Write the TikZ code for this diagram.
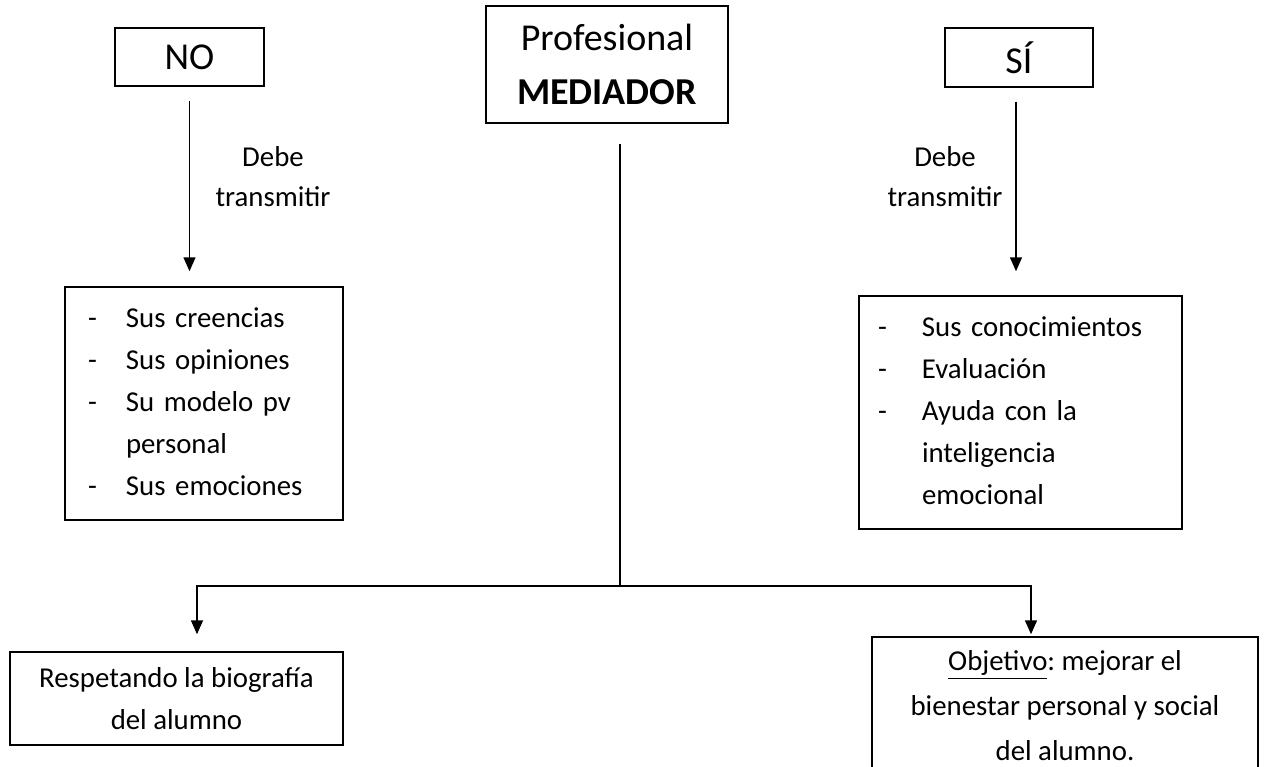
\documentclass[tikz,border=0pt]{standalone}
\usepackage{fontspec}
\setmainfont{Carlito}
\usetikzlibrary{arrows.meta}
\frenchspacing
\begin{document}
\begin{tikzpicture}[x=0.5pt,y=-0.5pt,
  box/.style={draw, line width=0.75pt, inner sep=0pt, align=center,
    font=\fontsize{14.4}{21}\selectfont},
  bigbox/.style={box, font=\fontsize{19}{27}\selectfont},
  listbox/.style={draw, line width=0.75pt, inner ysep=0pt, align=left,
    font=\fontsize{14.4}{21}\selectfont},
  lbl/.style={align=center, inner sep=0pt, font=\fontsize{14.4}{20}\selectfont},
  conn/.style={line width=0.75pt},
  arr/.style={conn, -{Triangle[width=6pt,length=7pt]}}]
\useasboundingbox (0,0) rectangle (1264,766);
\clip (0,0) rectangle (1264,766);
\fill[white] (0,0) rectangle (1264,766);

\node[bigbox, minimum width=74.5pt, minimum height=29pt] (no) at (189.5,57) {NO};
\node[bigbox, minimum width=121pt, minimum height=58.5pt] (prof) at (607,64.5) {Profesional\\\textbf{MEDIADOR}};
\node[bigbox, minimum width=74pt, minimum height=29.5pt] (si) at (1019,57.5) {SÍ};

\node[listbox, inner xsep=11.5pt, text width=116pt, minimum height=116.5pt] (nolist) at (204,403.5)
  {\begin{tabular}{@{}p{19pt}@{}l@{}}
   - & Sus creencias\\
   - & Sus opiniones\\
   - & Su modelo pv\\
     & personal\\
   - & Sus emociones
   \end{tabular}};
\node[listbox, inner xsep=9.5pt, text width=142.5pt, minimum height=116.5pt] (silist) at (1020.5,412.5)
  {\begin{tabular}{@{}p{22pt}@{}l@{}}
   - & Sus conocimientos\\
   - & Evaluación\\
   - & Ayuda con la\\
     & inteligencia\\
     & emocional
   \end{tabular}};

\node[lbl] (nolbl) at (273,177) {Debe\\transmitir};
\node[lbl] (silbl) at (945,177) {Debe\\transmitir};

\node[box, minimum width=166.5pt, minimum height=46.5pt] (resp) at (176.5,698.5) {Respetando la biografía\\del alumno};
\node[box, minimum width=193pt, minimum height=69pt, font=\fontsize{14.4}{22.5}\selectfont] (obj) at (1065,706) {\underline{Objetivo}: mejorar el\\bienestar personal y social\\del alumno.};

\draw[arr] ([yshift=-7pt]no.south) -- ([yshift=7.5pt]no.south |- nolist.north);
\draw[arr] ([xshift=-1.5pt,yshift=-7pt]si.south) -- ([xshift=-1.5pt,yshift=12pt]si.south |- silist.north);

\coordinate (hub) at (620,586);
\draw[conn] ([xshift=6.5pt,yshift=-10pt]prof.south) -- (hub);
\draw[arr] (hub) -| ([xshift=10.25pt,yshift=8.5pt]resp.north);
\draw[arr] (hub) -| ([xshift=-17pt,yshift=1pt]obj.north);
\end{tikzpicture}
\end{document}
